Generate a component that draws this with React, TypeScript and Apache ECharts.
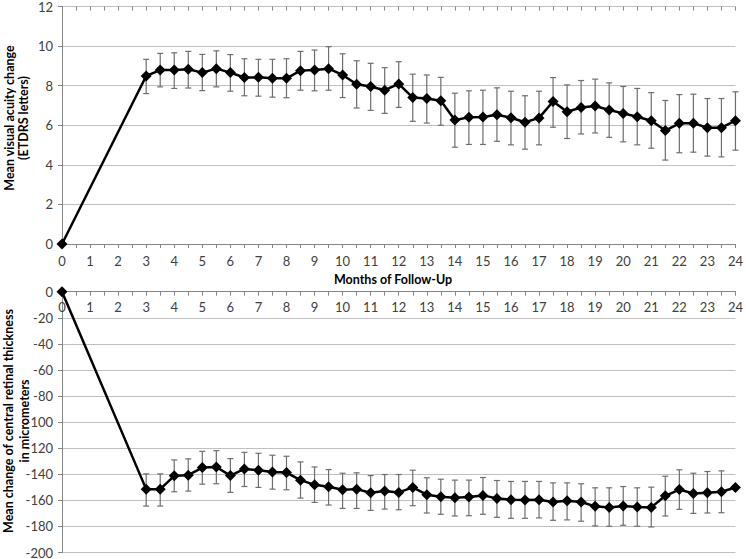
import React, { useEffect, useRef } from "react";
import * as echarts from "echarts";

const months = [0, 3, 3.5, 4, 4.5, 5, 5.5, 6, 6.5, 7, 7.5, 8, 8.5, 9, 9.5, 10, 10.5, 11, 11.5, 12, 12.5, 13, 13.5, 14, 14.5, 15, 15.5, 16, 16.5, 17, 17.5, 18, 18.5, 19, 19.5, 20, 20.5, 21, 21.5, 22, 22.5, 23, 23.5, 24];

const vaMean = [0, 8.49, 8.79, 8.79, 8.83, 8.66, 8.86, 8.66, 8.41, 8.42, 8.37, 8.37, 8.76, 8.79, 8.86, 8.54, 8.07, 7.96, 7.77, 8.09, 7.4, 7.35, 7.24, 6.26, 6.4, 6.42, 6.53, 6.38, 6.15, 6.37, 7.2, 6.68, 6.9, 6.97, 6.77, 6.6, 6.43, 6.23, 5.73, 6.1, 6.1, 5.88, 5.88, 6.23];
const vaUpper = [null, 9.33, 9.63, 9.66, 9.73, 9.58, 9.76, 9.57, 9.36, 9.33, 9.33, 9.36, 9.73, 9.8, 9.97, 9.61, 9.26, 9.13, 8.91, 9.21, 8.58, 8.54, 8.42, 7.62, 7.74, 7.77, 7.89, 7.72, 7.49, 7.72, 8.41, 8.04, 8.26, 8.33, 8.14, 7.96, 7.86, 7.65, 7.25, 7.55, 7.57, 7.35, 7.35, 7.69];
const vaLower = [null, 7.6, 7.94, 7.86, 7.88, 7.75, 7.94, 7.72, 7.49, 7.47, 7.42, 7.39, 7.77, 7.74, 7.77, 7.4, 6.87, 6.75, 6.6, 6.9, 6.2, 6.11, 6.0, 4.89, 5.03, 5.03, 5.19, 5.01, 4.79, 5.01, 5.9, 5.33, 5.56, 5.61, 5.39, 5.16, 5.01, 4.84, 4.24, 4.61, 4.64, 4.44, 4.4, 4.74];

const crtMean = [0, -151.4, -151.4, -141.2, -140.7, -134.9, -134.4, -141, -135.9, -136.9, -138.2, -138.7, -144.5, -148.1, -149.6, -151.9, -151.4, -154.2, -152.9, -153.9, -150.1, -155.7, -157.3, -158, -157.5, -156.2, -158.5, -159.5, -159.8, -159.5, -161.3, -160.3, -161.3, -164.6, -165.4, -164.4, -165.1, -165.4, -156.5, -151.7, -154.7, -154.2, -153.4, -150.1];
const crtUpper = [null, -139.7, -139.7, -129, -128.2, -122.4, -121.9, -128, -123.2, -123.9, -125.4, -126.2, -130.5, -134.4, -136.4, -139.2, -138.9, -141, -140.2, -140.2, -136.9, -142.7, -143.8, -144.5, -144.5, -142.5, -144.8, -145.5, -145.5, -145.5, -146.6, -146.6, -147.3, -150.4, -150.4, -149.4, -150.4, -149.9, -141.5, -136.6, -139.2, -137.9, -137.4, null];
const crtLower = [null, -164.4, -164.4, -153.4, -152.9, -147.6, -147.3, -153.9, -149.4, -150.1, -151.4, -151.9, -158.3, -161.6, -163.6, -166.2, -166.2, -167.7, -166.7, -167.2, -164.1, -169.7, -170.7, -172, -171.8, -170.7, -173, -173.8, -173.8, -173.5, -175.3, -175, -176, -179.6, -179.9, -179.1, -179.9, -180.4, -172, -166.9, -170, -169.7, -169.5, null];

const xTitle = "Months of Follow-Up";
const topTitle = ["Mean visual acuity change", "(ETDRS letters)"];
const bottomTitle = ["Mean change of central retinal thickness", "in micrometers"];

const FONT = "Lato, 'Open Sans', sans-serif";
const AXIS_GRAY = "#868686";
const GRID_GRAY = "#c0c0c0";
const TEXT = "#404040";
const ERR = "#6e6e6e";

function errData(lo: (number | null)[], hi: (number | null)[]) {
  const out: number[][] = [];
  months.forEach((m, i) => {
    if (lo[i] != null && hi[i] != null) out.push([m, lo[i] as number, hi[i] as number]);
  });
  return out;
}

function errorRender(params: any, api: any) {
  const x = api.value(0);
  const p1 = api.coord([x, api.value(1)]);
  const p2 = api.coord([x, api.value(2)]);
  const w = 3;
  const style = { stroke: ERR, lineWidth: 1.2 };
  return {
    type: "group",
    children: [
      { type: "line", shape: { x1: p1[0], y1: p1[1], x2: p2[0], y2: p2[1] }, style },
      { type: "line", shape: { x1: p1[0] - w, y1: p1[1], x2: p1[0] + w, y2: p1[1] }, style },
      { type: "line", shape: { x1: p2[0] - w, y1: p2[1], x2: p2[0] + w, y2: p2[1] }, style },
    ],
  };
}

const intLabel = (v: number) => (Math.abs(v - Math.round(v)) < 1e-6 ? String(Math.round(v)) : "");

export default function App() {
  const ref = useRef<HTMLDivElement>(null);
  useEffect(() => {
    if (!ref.current) return;
    const chart = echarts.init(ref.current, undefined, { renderer: "svg" });
    const labelStyle = { color: TEXT, fontSize: 13, fontFamily: FONT };
    const titleFont = `bold 12.5px ${FONT}`;
    chart.setOption({
      animation: false,
      backgroundColor: "#ffffff",
      grid: [
        { left: 62, top: 5, width: 675, height: 239 },
        { left: 62, top: 291.7, width: 675, height: 262.3 },
      ],
      xAxis: [
        {
          type: "value", gridIndex: 0, min: 0, max: 24, interval: 0.5,
          axisLine: { show: true, onZero: false, lineStyle: { color: AXIS_GRAY, width: 1 } },
          axisTick: { show: true, length: 4, lineStyle: { color: AXIS_GRAY } },
          axisLabel: { ...labelStyle, margin: 10, formatter: intLabel, showMinLabel: true, showMaxLabel: true },
          splitLine: { show: false },
        },
        {
          type: "value", gridIndex: 0, min: 0, max: 24, interval: 0.5,
          axisLine: { show: false, onZero: false },
          axisTick: { show: true, inside: true, length: 4, lineStyle: { color: AXIS_GRAY } },
          axisLabel: { show: false },
          splitLine: { show: false },
        },
        {
          type: "value", gridIndex: 1, position: "top", min: 0, max: 24, interval: 0.5,
          axisLine: { show: true, onZero: false, lineStyle: { color: AXIS_GRAY, width: 1 } },
          axisTick: { show: true, inside: true, length: 4, lineStyle: { color: AXIS_GRAY } },
          axisLabel: { ...labelStyle, inside: true, margin: 9, formatter: intLabel, showMinLabel: true, showMaxLabel: true },
          splitLine: { show: false },
        },
      ],
      yAxis: [
        {
          type: "value", gridIndex: 0, min: 0, max: 12, interval: 2,
          axisLine: { show: true, lineStyle: { color: AXIS_GRAY } },
          axisTick: { show: true, length: 4, lineStyle: { color: AXIS_GRAY } },
          axisLabel: { ...labelStyle, margin: 9 },
          splitLine: { show: true, lineStyle: { color: GRID_GRAY, width: 1 } },
        },
        {
          type: "value", gridIndex: 1, min: -200, max: 0, interval: 20,
          axisLine: { show: true, lineStyle: { color: AXIS_GRAY } },
          axisTick: { show: true, length: 4, lineStyle: { color: AXIS_GRAY } },
          axisLabel: { ...labelStyle, margin: 9 },
          splitLine: { show: true, lineStyle: { color: GRID_GRAY, width: 1 } },
        },
      ],
      series: [
        {
          type: "custom", xAxisIndex: 0, yAxisIndex: 0, renderItem: errorRender,
          data: errData(vaLower, vaUpper), encode: { x: 0, y: [1, 2] }, z: 2, silent: true,
        },
        {
          type: "line", xAxisIndex: 0, yAxisIndex: 0,
          data: months.map((m, i) => [m, vaMean[i]]),
          symbol: "diamond", symbolSize: 11, showAllSymbol: true,
          lineStyle: { color: "#000", width: 2.5 }, itemStyle: { color: "#000" }, z: 3,
        },
        {
          type: "custom", xAxisIndex: 2, yAxisIndex: 1, renderItem: errorRender,
          data: errData(crtLower, crtUpper), encode: { x: 0, y: [1, 2] }, z: 2, silent: true,
        },
        {
          type: "line", xAxisIndex: 2, yAxisIndex: 1,
          data: months.map((m, i) => [m, crtMean[i]]),
          symbol: "diamond", symbolSize: 11, showAllSymbol: true,
          lineStyle: { color: "#000", width: 2.5 }, itemStyle: { color: "#000" }, z: 3,
        },
      ],
      graphic: [
        { type: "text", x: 9, y: 118, rotation: Math.PI / 2, style: { text: topTitle[0], font: titleFont, fill: "#000", textAlign: "center", textVerticalAlign: "middle" } },
        { type: "text", x: 23, y: 118, rotation: Math.PI / 2, style: { text: topTitle[1], font: titleFont, fill: "#000", textAlign: "center", textVerticalAlign: "middle" } },
        { type: "text", x: 8, y: 421, rotation: Math.PI / 2, style: { text: bottomTitle[0], font: titleFont, fill: "#000", textAlign: "center", textVerticalAlign: "middle" } },
        { type: "text", x: 24, y: 421, rotation: Math.PI / 2, style: { text: bottomTitle[1], font: titleFont, fill: "#000", textAlign: "center", textVerticalAlign: "middle" } },
        { type: "text", x: 393, y: 279, style: { text: xTitle, font: titleFont, fill: "#000", textAlign: "center", textVerticalAlign: "middle" } },
      ],
    });
    return () => chart.dispose();
  }, []);
  return <div ref={ref} style={{ position: "fixed", left: 0, top: 0, width: 746, height: 559 }} />;
}
